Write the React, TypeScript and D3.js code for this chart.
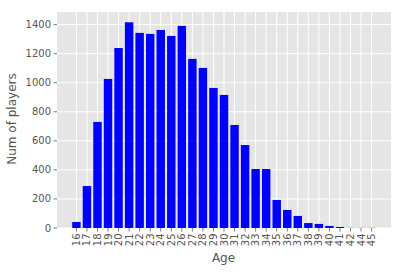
import React from "react";
import * as d3 from "d3";

const ages = ["16","17","18","19","20","21","22","23","24","25","26","27","28","29","30","31","32","33","34","35","36","37","38","39","40","41","42","44","45"];
const counts = [41,289,730,1026,1239,1416,1343,1336,1363,1322,1391,1164,1102,964,916,709,571,406,406,193,124,83,34,28,14,7,1,1,1];
const yTicks = [0,200,400,600,800,1000,1200,1400];

const W = 401, H = 272;
const L = 57, R = 391, T = 12, B = 228;
const FONT = "'DejaVu Sans', sans-serif";
const GRAY = "#555555";

export default function App() {
  const n = ages.length;
  const x = d3.scaleLinear().domain([-0.4 - 0.05 * (n - 1 + 0.8), n - 1 + 0.4 + 0.05 * (n - 1 + 0.8)]).range([L, R]);
  const yMax = (d3.max(counts) as number) * 1.05;
  const y = d3.scaleLinear().domain([0, yMax]).range([B, T]);
  const bw = x(0.8) - x(0);
  return (
    <svg width={W} height={H} style={{ position: "absolute", left: 0, top: 0, fontFamily: FONT }}>
      <rect x={0} y={0} width={W} height={H} fill="#fff" />
      <rect x={L} y={T} width={R - L} height={B - T} fill="#E5E5E5" />
      {yTicks.map((t) => (
        <line key={"gy" + t} x1={L} x2={R} y1={y(t)} y2={y(t)} stroke="#fff" strokeWidth={1} />
      ))}
      {ages.map((a, i) => (
        <line key={"gx" + a} x1={x(i)} x2={x(i)} y1={T} y2={B} stroke="#fff" strokeWidth={1} />
      ))}
      {counts.map((c, i) => (
        <rect key={"b" + i} x={x(i) - bw / 2} y={y(c)} width={bw} height={B - y(c)} fill="#0000FF" />
      ))}
      {yTicks.map((t) => (
        <g key={"ty" + t}>
          <line x1={L - 3.5} x2={L} y1={y(t)} y2={y(t)} stroke={GRAY} strokeWidth={0.8} />
          <text x={L - 6} y={y(t)} dy="0.35em" textAnchor="end" fontSize={10} fill={GRAY}>{t}</text>
        </g>
      ))}
      {ages.map((a, i) => (
        <g key={"tx" + a}>
          <line x1={x(i)} x2={x(i)} y1={B} y2={B + 3.5} stroke={GRAY} strokeWidth={0.8} />
          <text transform={`translate(${x(i)},${B + 5.5}) rotate(-90)`} dy="0.35em" textAnchor="end" fontSize={10} fill={GRAY}>{a}</text>
        </g>
      ))}
      <text x={(L + R) / 2 - 0.5} y={261.5} textAnchor="middle" fontSize={12} fill={GRAY}>Age</text>
      <text transform={`translate(15.5,${(T + B) / 2 - 1}) rotate(-90)`} textAnchor="middle" fontSize={12} fill={GRAY}>Num of players</text>
    </svg>
  );
}
